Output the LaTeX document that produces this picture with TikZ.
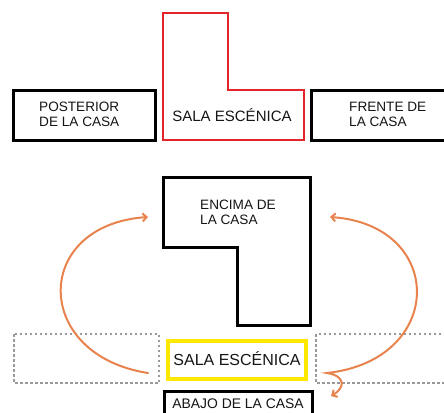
\documentclass[tikz,border=0pt]{standalone}
\usepackage{fontspec}
\setmainfont{Liberation Sans}
\usetikzlibrary{arrows.meta}
\definecolor{redL}{HTML}{E3242B}
\definecolor{orangeA}{HTML}{E8834E}
\definecolor{yellowB}{HTML}{FFE800}
\definecolor{txt}{HTML}{151515}
\definecolor{dashgray}{HTML}{999999}
\begin{document}
\begin{tikzpicture}[x=1pt,y=-1pt,
  blackbox/.style={draw=black,line width=3pt,line join=miter},
  redline/.style={draw=redL,line width=2.3pt,line join=miter},
  yellowbox/.style={draw=yellowB,line width=3.8pt},
  dashbox/.style={draw=dashgray,line width=1.4pt,dash pattern=on 2.5pt off 2.5pt},
  orangearrow/.style={draw=orangeA,line width=2pt,line cap=round},
  tipA/.tip={Straight Barb[length=4pt,width=8pt]},
  lbl/.style={text=txt,inner sep=0pt,align=left,font=\fontsize{13.6}{15}\selectfont},
  big/.style={text=txt,inner sep=0pt}
]
\useasboundingbox (0,0) rectangle (444,412);
\fill[white] (0,0) rectangle (444,412);

% top row
\draw[blackbox] (13,90) rectangle (155,140);
\draw[redline] (163,13) -- (228,13) -- (228,90) -- (304,90) -- (304,140) -- (163,140) -- cycle;
\draw[blackbox] (311,90) rectangle (452,140);

\node[lbl,anchor=west] (posterior) at (39,114.5) {POSTERIOR\\DE LA CASA};
\node[big,font=\fontsize{15}{18}\selectfont] (sala1) at (232,115) {SALA ESCÉNICA};
\node[lbl,anchor=west] (frente) at (349,114.5) {FRENTE DE\\LA CASA};

% bottom
\draw[blackbox] (163,177) -- (310,177) -- (310,325) -- (237,325) -- (237,247) -- (163,247) -- cycle;
\node[lbl,anchor=west] (encima) at (200,212.5) {ENCIMA DE\\LA CASA};

\draw[dashbox] (14,334) rectangle (159,383);
\draw[dashbox] (316,334) rectangle (452,383);

\draw[yellowbox] (168,341) rectangle (306,379);
\node[big,font=\fontsize{16}{19}\selectfont] (sala2) at (237,359) {SALA ESCÉNICA};

\draw[blackbox] (164,391) rectangle (312,424);
\node[big,font=\fontsize{13.9}{16}\selectfont] (abajo) at (238,404) {ABAJO DE LA CASA};

% arrows
\coordinate (l0) at (148,373);
\coordinate (l1) at (148,217);
\coordinate (r0) at (330,217);
\coordinate (r1) at (327,373);
\coordinate (r2) at (331,396);
\draw[orangearrow,-tipA] (l0) .. controls (32,355) and (32,225) .. (l1);
\draw[orangearrow,tipA-tipA] (r0) .. controls (446,225) and (446,360) .. (r1) .. controls (346,376) and (345,388) .. (r2);
\end{tikzpicture}
\end{document}
